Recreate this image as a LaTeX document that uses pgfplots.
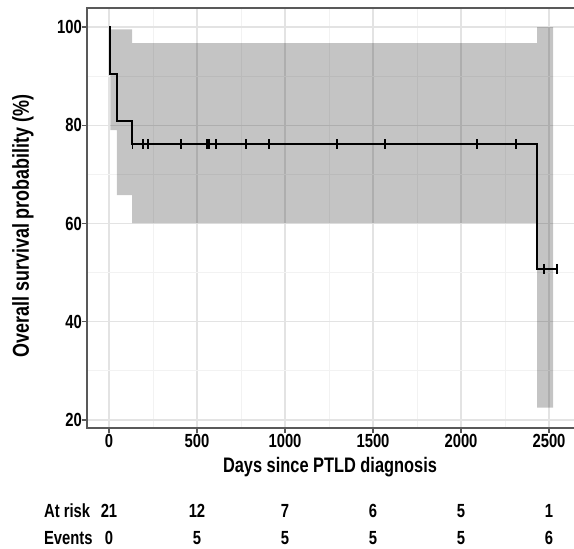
\documentclass[border=0pt]{standalone}
\usepackage{fontspec}
\setmainfont{Liberation Sans}[FakeStretch=0.78]
\usepackage{pgfplots}
\pgfplotsset{compat=1.18}

\definecolor{gridmaj}{gray}{0.89}
\definecolor{gridmin}{gray}{0.95}
\definecolor{spine}{gray}{0.35}

\begin{document}
\bfseries
\begin{tikzpicture}
  \useasboundingbox (0,0) rectangle (287pt,274pt);
  \begin{axis}[
      at={(43.5pt,60pt)}, anchor=south west,
      scale only axis, width=243.5pt, height=210pt,
      xmin=-125, xmax=2642, ymin=18.37, ymax=103.87,
      xtick={0,500,1000,1500,2000,2500},
      ytick={20,40,60,80,100},
      minor xtick={250,750,1250,1750,2250},
      minor ytick={30,50,70,90},
      grid=both,
      major grid style={gridmaj, line width=0.6pt},
      minor grid style={gridmin, line width=0.5pt},
      axis line style={draw=none},
      tick pos=left, tick align=outside,
      major tick length=2.5pt, minor tick length=0pt,
      tick style={spine, line width=0.6pt},
      ticklabel style={font=\fontsize{9.5}{10}\selectfont\bfseries},
      x tick label style={yshift=3pt},
      y tick label style={xshift=3.5pt},
      /pgf/number format/assume math mode=true,
      /pgf/number format/1000 sep={},
      clip=false,
    ]
    % confidence band
    \addplot[fill=black, fill opacity=0.23, draw=none] coordinates {
      (8,99.5)(131,99.5)(131,96.7)(2432,96.7)(2432,100)(2523,100)
      (2523,22.5)(2432,22.5)(2432,60.1)(131,60.1)(131,65.8)(45,65.8)
      (45,79.0)(8,79.0)} -- cycle;
    % survival curve
    \addplot[const plot, black, line width=1pt] coordinates {
      (0,100)(8,90.48)(45,80.95)(131,76.19)(2432,50.79)(2545,50.79)};
    % censoring marks
    \addplot[only marks, mark=|, mark size=2.4pt, black, mark options={line width=0.8pt}] coordinates {
      (134,76.19)(193,76.19)(222,76.19)(409,76.19)(557,76.19)(568,76.19)
      (608,76.19)(778,76.19)(909,76.19)(1295,76.19)(1568,76.19)
      (2091,76.19)(2313,76.19)(2472,50.79)(2545,50.79)};
    % panel border (left, bottom, top)
    \draw[spine, line width=0.6pt] (rel axis cs:1,1) -- (rel axis cs:0,1)
      -- (rel axis cs:0,0) -- (rel axis cs:1,0);
  \end{axis}
  % axis titles
  \node[font=\fontsize{10.5}{12}\selectfont\bfseries] at (165pt,40.5pt) {Days since PTLD diagnosis};
  \node[font=\fontsize{11.5}{12}\selectfont\bfseries, rotate=90] at (11.5pt,161pt) {Overall survival probability (\%)};
  % risk table
  \begin{scope}[every node/.style={font=\fontsize{9.5}{10}\selectfont\bfseries}]
    \node[anchor=west] at (18.5pt,18.5pt) {At risk};
    \node[anchor=west] at (18.5pt,5pt) {Events};
    \foreach \x/\r/\e in {54.5/21/0, 98.5/12/5, 142.5/7/5, 186.5/6/5, 230.5/5/5, 274.5/1/6} {
      \node at (\x pt,18.5pt) {\r};
      \node at (\x pt,5pt) {\e};
    }
  \end{scope}
\end{tikzpicture}
\end{document}
